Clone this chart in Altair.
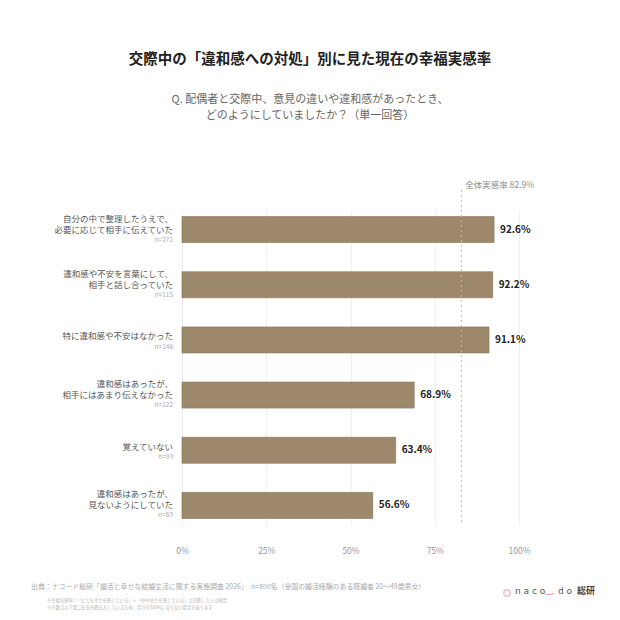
import altair as alt
import pandas as pd

FONT = "Noto Sans CJK JP"

categories = [
    "自分の中で整理したうえで、必要に応じて相手に伝えていた",
    "違和感や不安を言葉にして、相手と話し合っていた",
    "特に違和感や不安はなかった",
    "違和感はあったが、相手にはあまり伝えなかった",
    "覚えていない",
    "違和感はあったが、見ないようにしていた",
]
label_lines = [
    ["自分の中で整理したうえで、", "必要に応じて相手に伝えていた"],
    ["違和感や不安を言葉にして、", "相手と話し合っていた"],
    ["特に違和感や不安はなかった"],
    ["違和感はあったが、", "相手にはあまり伝えなかった"],
    ["覚えていない"],
    ["違和感はあったが、", "見ないようにしていた"],
]
values = [92.6, 92.2, 91.1, 68.9, 63.4, 56.6]
ns = [271, 115, 146, 122, 93, 53]
overall = 82.9
x_ticks = [0, 25, 50, 75, 100]

title_text = "交際中の「違和感への対処」別に見た現在の幸福実感率"
subtitle_lines = [
    "Q. 配偶者と交際中、意見の違いや違和感があったとき、",
    "どのようにしていましたか？（単一回答）",
]
ref_label = "全体実感率 82.9%"
source_text = "出典：ナコード総研「婚活と幸せな結婚生活に関する実態調査 2026」　n=800名（全国の婚活経験のある既婚者 20〜49歳男女）"
note_lines = [
    "※幸福実感率＝「とても幸せを感じている」＋「やや幸せを感じている」と回答した人の割合",
    "※小数点以下第二位を四捨五入しているため、合計が100%にならない場合があります",
]

df = pd.DataFrame({
    "cat": categories,
    "value": values,
    "n": ns,
    "vlabel": [f"{v:.1f}%" for v in values],
})

rows = []
for c, lines, n in zip(categories, label_lines, ns):
    if len(lines) == 2:
        rows.append({"cat": c, "text": lines[0], "kind": "a2"})
        rows.append({"cat": c, "text": lines[1], "kind": "b2"})
        rows.append({"cat": c, "text": f"n={n}", "kind": "n2"})
    else:
        rows.append({"cat": c, "text": lines[0], "kind": "a1"})
        rows.append({"cat": c, "text": f"n={n}", "kind": "n1"})
ldf = pd.DataFrame(rows)

yenc = alt.Y("cat:N", sort=categories, axis=None,
             scale=alt.Scale(paddingInner=0.53, paddingOuter=0.12))

bars = alt.Chart(df).mark_bar(color="#9e886b", stroke="#8e785c", strokeWidth=0.7).encode(
    x=alt.X("value:Q", scale=alt.Scale(domain=[0, 100]),
            axis=alt.Axis(values=x_ticks, labelExpr="datum.value + '%'", grid=True,
                          gridColor="#ebebeb", gridWidth=0.8, domain=False, ticks=False,
                          labelFlush=False,
                          labelPadding=21, labelFontSize=8.5, labelColor="#999999",
                          labelFont=FONT, title=None)),
    y=yenc,
)

vtext = alt.Chart(df).mark_text(align="left", baseline="middle", dx=6, fontSize=10,
                                fontWeight="bold", color="#222222", font=FONT).encode(
    x="value:Q", y=yenc, text="vlabel:N")

ref_df = pd.DataFrame({"x": [overall], "label": [ref_label]})
ref_rule = alt.Chart(ref_df).mark_rule(color="#bbbbbb", strokeDash=[2, 3], strokeWidth=1).encode(
    x="x:Q", y=alt.value(-20), y2=alt.value(312))
ref_text = alt.Chart(ref_df).mark_text(align="left", baseline="middle", dx=4, fontSize=8.5,
                                       color="#8a8a8a", font=FONT).encode(
    x="x:Q", y=alt.value(-25), text="label:N")

layers = [bars, vtext, ref_rule, ref_text]

kind_styles = {
    "a2": dict(dy=-11, fontSize=8.5, color="#555555"),
    "b2": dict(dy=0, fontSize=8.5, color="#555555"),
    "n2": dict(dy=10, fontSize=6.5, color="#aaaaaa"),
    "a1": dict(dy=-3.5, fontSize=8.5, color="#555555"),
    "n1": dict(dy=7, fontSize=6.5, color="#aaaaaa"),
}
for k, st in kind_styles.items():
    layers.append(
        alt.Chart(ldf).transform_filter(alt.datum.kind == k).mark_text(
            align="right", baseline="middle", font=FONT, **st).encode(
            x=alt.value(-9), y=yenc, text="text:N")
    )

title_df = pd.DataFrame({"t": [title_text]})
layers.append(alt.Chart(title_df).mark_text(align="center", baseline="middle", fontSize=14.5,
                                            fontWeight="bold", color="#222222", font=FONT).encode(
    x=alt.value(128), y=alt.value(-150), text="t:N"))

for i, line in enumerate(subtitle_lines):
    layers.append(alt.Chart(pd.DataFrame({"t": [line]})).mark_text(
        align="center", baseline="middle", fontSize=11, color="#666666", font=FONT).encode(
        x=alt.value(128), y=alt.value([-110, -94][i]), text="t:N"))

layers.append(alt.Chart(pd.DataFrame({"t": [source_text]})).mark_text(
    align="left", baseline="middle", fontSize=6.9, color="#aaaaaa", font=FONT).encode(
    x=alt.value(-151), y=alt.value(377), text="t:N"))
for i, line in enumerate(note_lines):
    layers.append(alt.Chart(pd.DataFrame({"t": [line]})).mark_text(
        align="left", baseline="middle", fontSize=4.3, color="#b0b0b0", font=FONT).encode(
        x=alt.value(-135), y=alt.value([391, 398][i]), text="t:N"))

# logo
layers.append(alt.Chart(pd.DataFrame({"t": ["x"]})).mark_point(
    shape="circle", size=40, color="#f2a7b4", strokeWidth=1.6, filled=False).encode(
    x=alt.value(325), y=alt.value(383)))
layers.append(alt.Chart(pd.DataFrame({"t": ["n a c o"]})).mark_text(
    align="left", baseline="middle", fontSize=9, color="#555555", font="DejaVu Sans").encode(
    x=alt.value(333), y=alt.value(381), text="t:N"))
layers.append(alt.Chart(pd.DataFrame({"t": ["‿"]})).mark_text(
    align="left", baseline="middle", fontSize=12, color="#ee8fa2", font="DejaVu Sans").encode(
    x=alt.value(362), y=alt.value(378), text="t:N"))
layers.append(alt.Chart(pd.DataFrame({"t": ["d o"]})).mark_text(
    align="left", baseline="middle", fontSize=9, color="#555555", font="DejaVu Sans").encode(
    x=alt.value(376), y=alt.value(381), text="t:N"))
layers.append(alt.Chart(pd.DataFrame({"t": ["総研"]})).mark_text(
    align="left", baseline="middle", fontSize=9, fontWeight="bold", color="#444444", font=FONT).encode(
    x=alt.value(395), y=alt.value(381), text="t:N"))

chart = alt.layer(*layers).properties(
    width=337, height=315,
    padding={"left": 174, "top": 202, "right": 93, "bottom": 87},
    autosize=alt.AutoSizeParams(type="none"),
    background="white",
).configure_view(stroke=None)

chart.save("out.html", embed_options={"renderer": "svg", "actions": False})
